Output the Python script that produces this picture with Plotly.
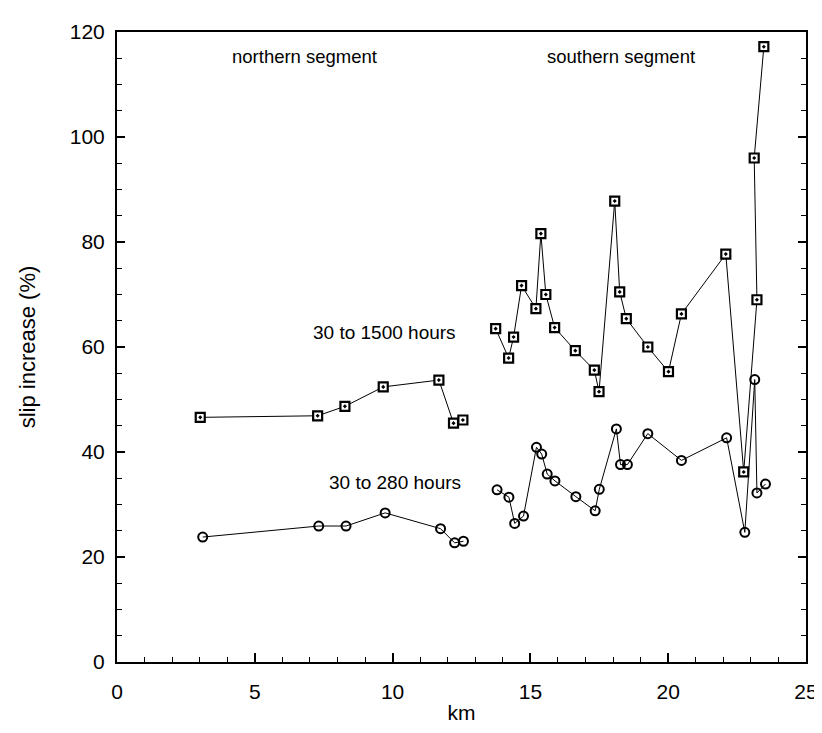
import plotly.graph_objects as go

# northern segment
north_km_sq = [3.02, 7.28, 8.27, 9.66, 11.68, 12.21, 12.55]
north_1500 = [46.6, 46.9, 48.7, 52.4, 53.7, 45.5, 46.1]
north_km_ci = [3.11, 7.32, 8.31, 9.73, 11.74, 12.25, 12.57]
north_280 = [23.8, 25.9, 25.9, 28.4, 25.4, 22.7, 23.0]

# southern segment
south_km_sq = [13.74, 14.21, 14.39, 14.68, 15.20, 15.38, 15.56, 15.88, 16.63, 17.32,
               17.49, 18.06, 18.24, 18.48, 19.26, 20.01, 20.48, 22.09, 22.74, 23.22,
               23.12, 23.47]
south_1500 = [63.5, 57.9, 61.9, 71.7, 67.3, 81.6, 70.0, 63.7, 59.3, 55.6,
              51.5, 87.8, 70.5, 65.4, 60.0, 55.3, 66.3, 77.7, 36.2, 69.0,
              96.0, 117.2]
south_km_ci = [13.79, 14.22, 14.43, 14.75, 15.22, 15.41, 15.61, 15.89, 16.65, 17.35,
               17.50, 18.12, 18.27, 18.52, 19.26, 20.48, 22.12, 22.78, 23.14, 23.22,
               23.53]
south_280 = [32.8, 31.4, 26.4, 27.8, 40.9, 39.6, 35.8, 34.5, 31.5, 28.8,
             32.9, 44.4, 37.6, 37.6, 43.5, 38.4, 42.7, 24.7, 53.8, 32.2,
             33.9]

x_ticks = [0, 5, 10, 15, 20, 25]
y_ticks = [0, 20, 40, 60, 80, 100, 120]

FONT = "Liberation Sans, Arial, Helvetica, sans-serif"

sq_marker = dict(symbol="square-dot", size=9, color="white",
                 line=dict(color="black", width=2.2))
ci_marker = dict(symbol="circle-open", size=9, color="black",
                 line=dict(color="black", width=2))
line_style = dict(color="black", width=1)

fig = go.Figure()
for xs, ys, mk in [(north_km_sq, north_1500, sq_marker),
                   (south_km_sq, south_1500, sq_marker),
                   (north_km_ci, north_280, ci_marker),
                   (south_km_ci, south_280, ci_marker)]:
    fig.add_trace(go.Scatter(x=xs, y=ys, mode="lines+markers",
                             line=line_style, marker=mk,
                             showlegend=False, hoverinfo="skip"))

annots = [
    dict(x=4.1, y=115.3, text="northern segment", xanchor="left", size=18.5),
    dict(x=21.06, y=115.3, text="southern segment", xanchor="right", size=18.5),
    dict(x=12.39, y=62.8, text="30 to 1500 hours", xanchor="right", size=19),
    dict(x=12.54, y=34.1, text="30 to 280 hours", xanchor="right", size=19),
]
for a in annots:
    fig.add_annotation(x=a["x"], y=a["y"], xref="x", yref="y", text=a["text"],
                       showarrow=False, xanchor=a["xanchor"], yanchor="middle",
                       font=dict(family=FONT, size=a["size"], color="black"))

fig.update_layout(
    width=822, height=733,
    margin=dict(l=109, r=15, t=17, b=79),
    paper_bgcolor="white", plot_bgcolor="white",
    font=dict(family=FONT, color="black"),
)
fig.update_xaxes(
    range=[0, 25], tickvals=x_ticks, ticktext=[str(v) for v in x_ticks],
    ticks="inside", ticklen=9, tickwidth=1.5, tickcolor="black",
    minor=dict(dtick=1, ticks="inside", ticklen=5, tickwidth=1, tickcolor="black"),
    showline=True, linecolor="black", linewidth=2, mirror=True,
    showgrid=False, zeroline=False,
    tickfont=dict(family=FONT, size=21), ticklabelstandoff=10,
    title=dict(text="km", font=dict(family=FONT, size=21), standoff=3),
)
fig.update_yaxes(
    range=[0, 120], tickvals=y_ticks, ticktext=[str(v) for v in y_ticks],
    ticks="inside", ticklen=8, tickwidth=1.5, tickcolor="black",
    minor=dict(dtick=5, ticks="inside", ticklen=5, tickwidth=1, tickcolor="black"),
    showline=True, linecolor="black", linewidth=2, mirror="ticks",
    showgrid=False, zeroline=False,
    tickfont=dict(family=FONT, size=21), ticklabelstandoff=6,
    title=dict(text="slip increase (%)", font=dict(family=FONT, size=22), standoff=28),
)

fig.write_html("out.html")
